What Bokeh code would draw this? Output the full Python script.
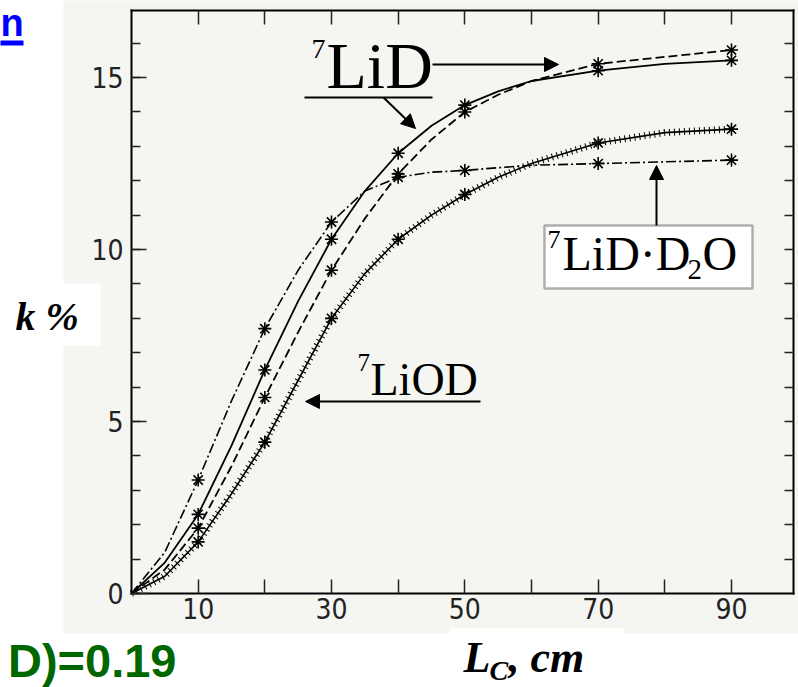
from bokeh.plotting import figure
from bokeh.models import (Range1d, LinearAxis, FixedTicker, Label, Arrow,
                          NormalHead, BoxAnnotation)
from bokeh.embed import file_html
from bokeh.resources import INLINE

# ---------------- data ----------------
x_curve = [0, 5, 10, 15, 20, 25, 30, 35, 40, 45, 50, 55, 60, 70, 80, 90]
lid_solid = [0, 0.9, 2.3, 4.3, 6.5, 8.5, 10.3, 11.7, 12.8, 13.6, 14.2, 14.6, 14.9, 15.2, 15.4, 15.5]
lid_dashed = [0, 0.7, 1.9, 3.7, 5.7, 7.6, 9.4, 10.9, 12.2, 13.2, 14.0, 14.5, 14.9, 15.4, 15.6, 15.8]
lid_d2o = [0, 1.2, 3.3, 5.6, 7.7, 9.4, 10.8, 11.7, 12.1, 12.25, 12.3, 12.38, 12.45, 12.5, 12.55, 12.6]
liod = [0, 0.5, 1.5, 2.9, 4.4, 6.2, 8.0, 9.3, 10.3, 11.0, 11.6, 12.1, 12.5, 13.1, 13.4, 13.5]

x_marks = [10, 20, 30, 40, 50, 70, 90]
lid_solid_marks = [2.3, 6.5, 10.3, 12.8, 14.2, 15.2, 15.5]
lid_dashed_marks = [1.9, 5.7, 9.4, 12.2, 14.0, 15.4, 15.8]
lid_d2o_marks = [3.3, 7.7, 10.8, 12.1, 12.3, 12.5, 12.6]
liod_marks = [1.5, 4.4, 8.0, 10.3, 11.6, 13.1, 13.5]

x_ticks = [10, 20, 30, 40, 50, 60, 70, 80, 90]
x_tick_labels = {10: "10", 20: "", 30: "30", 40: "", 50: "50", 60: "", 70: "70", 80: "", 90: "90"}
y_ticks = [0, 5, 10, 15]
y_tick_labels = {0: "0", 5: "5", 10: "10", 15: "15"}
y_minor = list(range(0, 17))

# ---------------- layout helpers (pixel -> data) ----------------
W, H = 798, 687
L, R, T, B = 131, 793, 10, 593          # where the scanned plot box sits
XMAX, YMAX = 99.3, 16.95
def X(px):
    return (px - L) * XMAX / (R - L)
def Y(py):
    return (B - py) * YMAX / (B - T)

TICK_FONT = "'Liberation Sans Narrow', 'DejaVu Sans Condensed', 'Roboto Condensed', sans-serif"
SERIF = "Liberation Serif"

p = figure(width=W, height=H, x_range=Range1d(X(0), X(W)), y_range=Range1d(Y(H), Y(0)),
           output_backend="svg", toolbar_location=None,
           x_axis_location=None, y_axis_location=None, min_border=0)
p.background_fill_color = "white"
p.border_fill_color = "white"
p.outline_line_color = None
for g in p.grid:
    g.visible = False
p.xgrid.grid_line_color = None
p.ygrid.grid_line_color = None

# scanned figure background
p.add_layout(BoxAnnotation(left=X(63), right=X(810), top=Y(-5), bottom=Y(633),
                           fill_color="#f5f5f1", fill_alpha=1, line_color=None, level="underlay"))
p.add_layout(BoxAnnotation(left=X(-5), right=X(100), top=Y(283), bottom=Y(345),
                           fill_color="white", fill_alpha=1, line_color=None, level="underlay"))
p.add_layout(BoxAnnotation(left=X(449), right=X(623), top=Y(628), bottom=Y(700),
                           fill_color="white", fill_alpha=1, line_color=None, level="underlay"))

def style_axis(ax, size="28px"):
    ax.axis_line_color = "black"
    ax.axis_line_width = 2
    ax.axis_line_cap = "square"
    ax.major_tick_line_color = "#222222"
    ax.major_tick_line_width = 1.5
    ax.minor_tick_line_color = "#222222"
    ax.minor_tick_line_width = 1.5
    ax.major_tick_out = 0
    ax.minor_tick_out = 0
    ax.major_label_text_font = TICK_FONT
    ax.major_label_text_font_size = size
    ax.major_label_text_color = "#222222"

xb = LinearAxis(ticker=FixedTicker(ticks=x_ticks, minor_ticks=[]), major_label_overrides=x_tick_labels,
                fixed_location=0, bounds=(0, XMAX))
style_axis(xb)
xb.major_tick_in = 14
xb.major_label_standoff = 4
p.add_layout(xb, "below")

xt = LinearAxis(ticker=FixedTicker(ticks=x_ticks, minor_ticks=[]),
                major_label_overrides={t: "" for t in x_ticks},
                fixed_location=YMAX, bounds=(0, XMAX))
style_axis(xt, "1px")
xt.major_tick_in = 14
xt.major_label_standoff = 0
p.add_layout(xt, "above")

yl = LinearAxis(ticker=FixedTicker(ticks=y_ticks, minor_ticks=y_minor), major_label_overrides=y_tick_labels,
                fixed_location=0, bounds=(0, YMAX))
style_axis(yl)
yl.major_tick_in = 15
yl.minor_tick_in = 9
yl.major_label_standoff = 8
p.add_layout(yl, "left")

yr = LinearAxis(ticker=FixedTicker(ticks=y_minor[1:], minor_ticks=[]),
                major_label_overrides={t: "" for t in y_minor[1:]},
                fixed_location=XMAX, bounds=(0, YMAX))
style_axis(yr, "1px")
yr.major_tick_in = 9
yr.major_label_standoff = 0
p.add_layout(yr, "right")

# ---------------- curves ----------------
p.line(x_curve, lid_solid, line_color="black", line_width=1.8)
p.line(x_curve, lid_dashed, line_color="black", line_width=1.8, line_dash="9 4")
p.line(x_curve, lid_d2o, line_color="black", line_width=1.6, line_dash="10 3 2 3")
p.line(x_curve, liod, line_color="black", line_width=1.6)
p.line(x_curve, liod, line_color="black", line_width=7, line_dash="1 4")

for ys in (lid_solid_marks, lid_dashed_marks, lid_d2o_marks, liod_marks):
    p.scatter(x_marks, ys, marker="asterisk", size=13, line_color="black", line_width=1.6)

# ---------------- annotations ----------------
BASE_SHIFT = 0.35   # renderer puts the alphabetic baseline about 0.35 em low

def lab(px, py, text, size, font=SERIF, style="normal", color="black", align="left"):
    p.add_layout(Label(x=X(px), y=Y(py - BASE_SHIFT * size), text=text, text_font=font,
                       text_font_size=f"{size}px", text_font_style=style, text_color=color,
                       text_align=align, text_baseline="alphabetic"))

def arrow(x0, y0, x1, y1, head=True):
    p.add_layout(Arrow(x_start=X(x0), y_start=Y(y0), x_end=X(x1), y_end=Y(y1),
                       line_color="black", line_width=2,
                       end=NormalHead(size=14, fill_color="black", line_color="black") if head else None))

# 7LiD
lab(311, 58, "7", 28)
lab(326, 88, "LiD", 66)
arrow(304, 97, 432, 97, head=False)
arrow(432, 64, 558, 64)
arrow(383, 97, 415, 128)

# 7LiD.D2O box
p.add_layout(BoxAnnotation(left=X(544), right=X(752), top=Y(225), bottom=Y(288),
                           fill_color="white", fill_alpha=1, line_color="black", line_width=2.5))
lab(547, 248, "7", 26)
lab(562, 270, "LiD\u00b7D", 48)
lab(687, 279, "2", 29)
lab(702, 270, "O", 48)
arrow(656, 225, 656, 165)

# 7LiOD
lab(357, 371, "7", 25)
lab(370, 395, "LiOD", 46)
arrow(480, 401, 305, 401)

# axis titles
lab(15, 330, "k %", 40, style="bold italic")
lab(463, 672, "L", 44, style="bold italic")
lab(489, 680, "C", 28, style="bold italic")
lab(508, 672, ", cm", 44, style="bold italic")

# slide fragments
lab(176, 676, "D)=0.19", 47, font="Liberation Sans", style="bold", color="#006600", align="right")
lab(0, 36, "n", 38, font="Liberation Sans", style="bold", color="#0000ff")
p.add_layout(BoxAnnotation(left=X(-10), right=X(23), top=Y(40), bottom=Y(45),
                           fill_color="#0000ff", fill_alpha=1, line_color=None))

open("out.html", "w").write(file_html(p, INLINE))
